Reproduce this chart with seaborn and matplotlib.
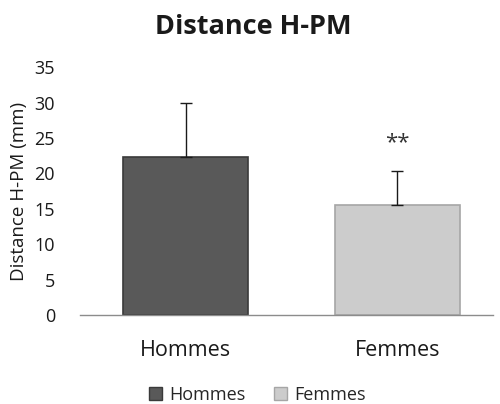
import numpy as np
import pandas as pd
import seaborn as sns
import matplotlib.pyplot as plt
from matplotlib.patches import Patch

# --- Data ---
groups = ["Hommes", "Femmes"]
means = [22.3, 15.5]
sds = [7.6, 4.8]
colors = ["#595959", "#cccccc"]
edges = ["#3a3a3a", "#a6a6a6"]

df = pd.DataFrame({"group": groups, "mean": means})

sns.set_theme(style="white")
plt.rcParams["font.family"] = ["Open Sans", "DejaVu Sans"]

fig, ax = plt.subplots(figsize=(5.0, 4.04), dpi=100)
fig.subplots_adjust(left=0.16, right=0.985, top=0.834, bottom=0.22)

sns.barplot(data=df, x="group", y="mean", hue="group", palette=colors,
            width=0.59, legend=False, ax=ax, saturation=1)
for bar, ec in zip(ax.patches, edges):
    bar.set_edgecolor(ec)
    bar.set_linewidth(1.2)

# upper-only error bars
ax.errorbar(np.arange(len(groups)), means, yerr=[np.zeros(len(sds)), sds],
            fmt="none", ecolor="#1a1a1a", elinewidth=1, capsize=4, capthick=1)

ax.text(1, means[1] + sds[1] + 2.6, "**", ha="center", va="bottom",
        fontsize=16, color="#333333")

ax.set_ylim(0, 35)
ax.set_yticks(range(0, 36, 5))
ax.set_xlim(-0.5, 1.45)
ax.set_xlabel("")
ax.set_ylabel("Distance H-PM (mm)", fontsize=13.5, color="#1a1a1a", labelpad=5)
fig.suptitle("Distance H-PM", x=0.506, y=0.965, fontsize=19.5, fontweight="bold",
             color="#1a1a1a")
ax.tick_params(axis="y", labelsize=13, colors="#1a1a1a", length=0, pad=18)
ax.tick_params(axis="x", labelsize=15.5, colors="#1a1a1a", length=0, pad=18)

for s in ["top", "right", "left"]:
    ax.spines[s].set_visible(False)
ax.spines["bottom"].set_color("#8c8c8c")
ax.spines["bottom"].set_linewidth(1)

handles = [Patch(facecolor=c, edgecolor=e, label=g) for g, c, e in zip(groups, colors, edges)]
fig.legend(handles=handles, loc="lower center", bbox_to_anchor=(0.515, -0.04), ncol=2,
           frameon=False, fontsize=13, handlelength=0.7, handleheight=0.7,
           handletextpad=0.4, columnspacing=1.6)

plt.savefig("out.png")
